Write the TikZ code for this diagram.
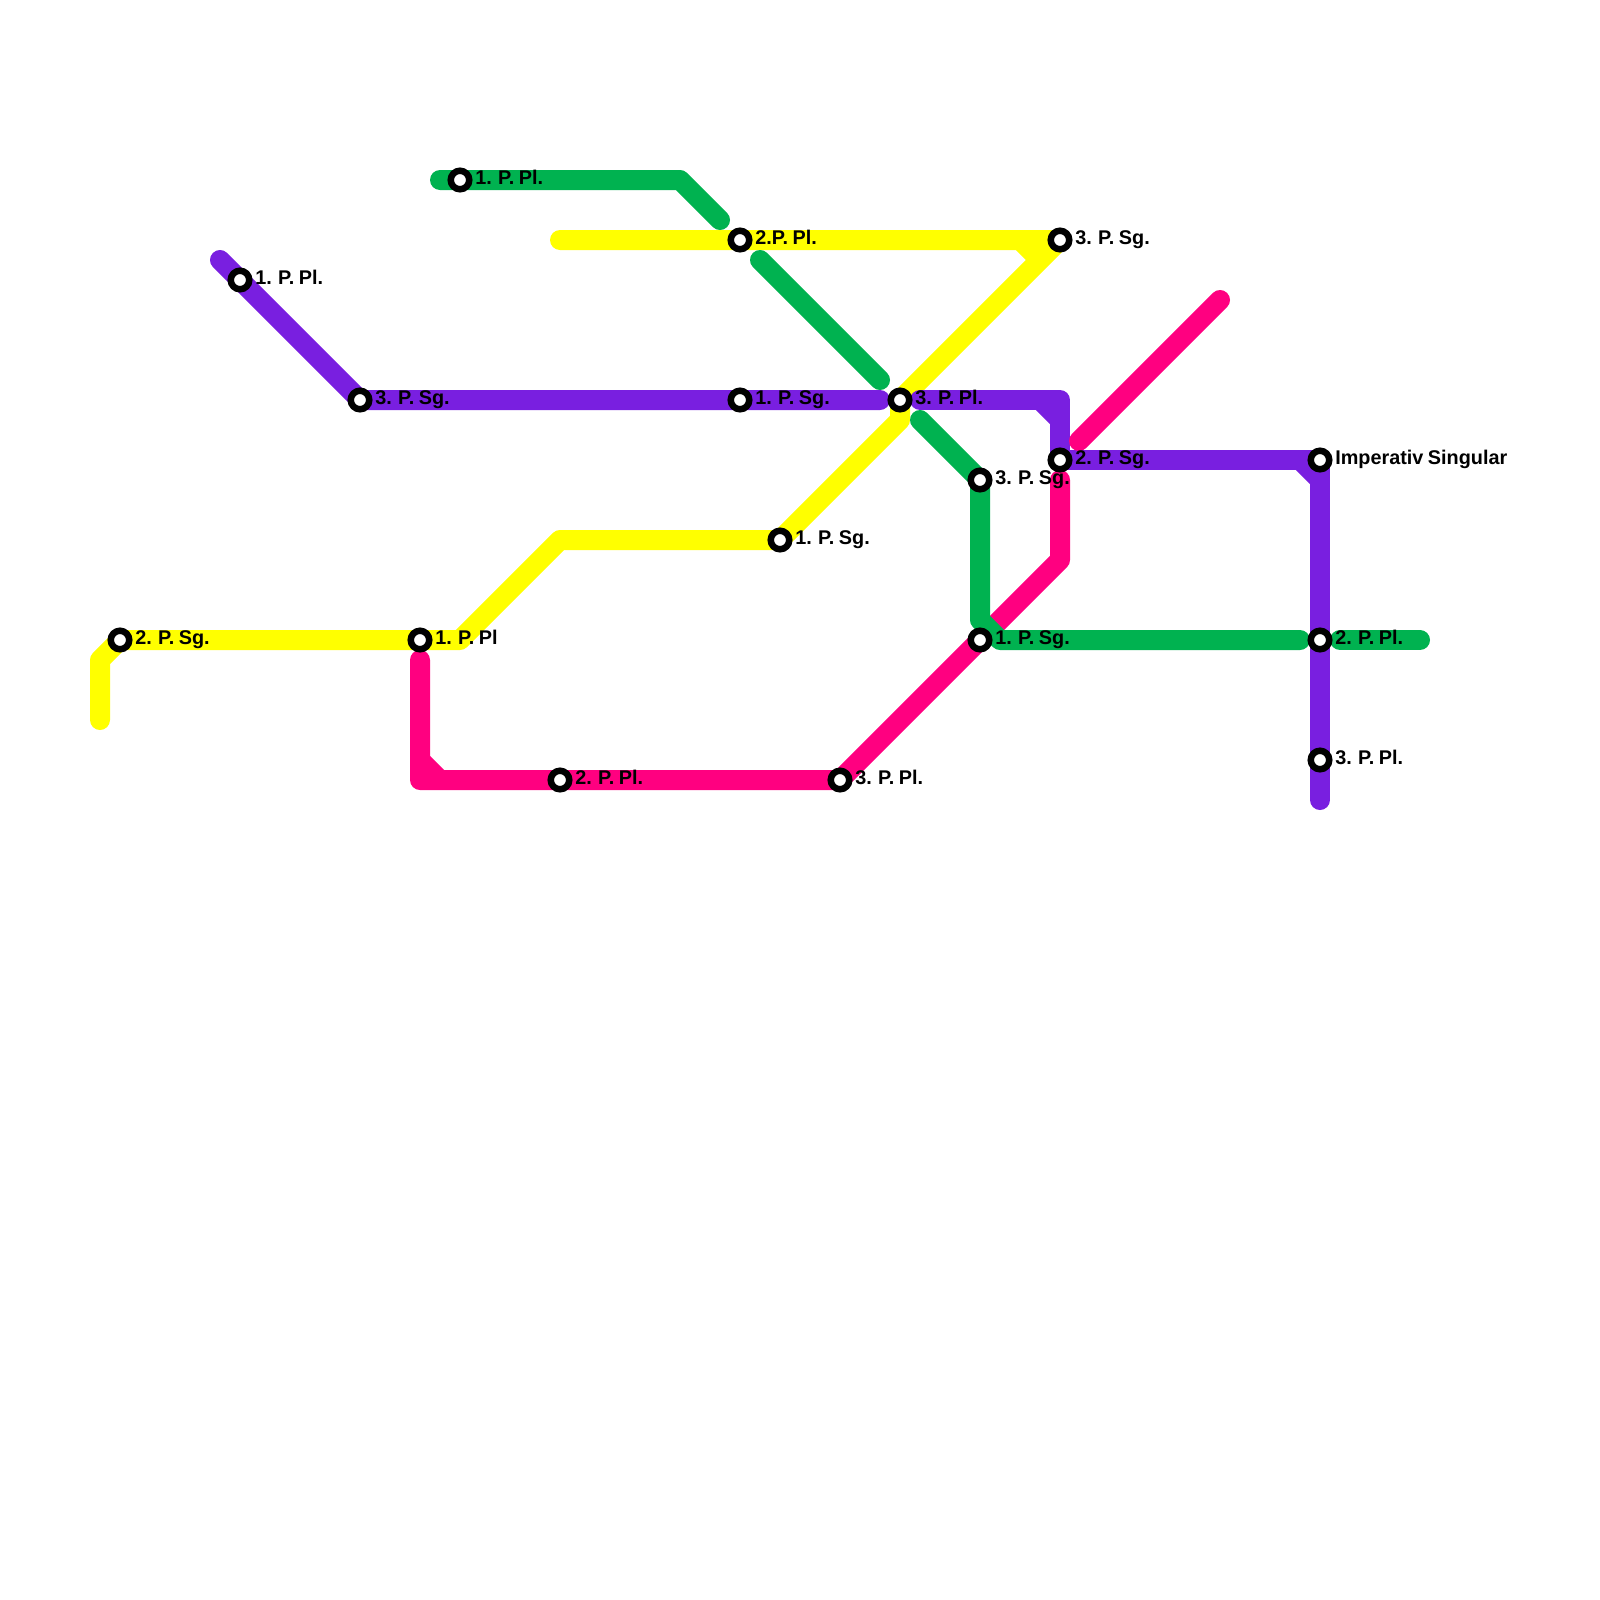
\documentclass[tikz,border=0pt]{standalone}
\usepackage{fontspec}
\setmainfont{Liberation Sans}[WordSpace=0.82]
\usepackage{tikz}
\usetikzlibrary{positioning, backgrounds}

\definecolor{lineyellow}{RGB}{255,255,0}
\definecolor{linegreen}{RGB}{0,178,80}
\definecolor{linepurple}{RGB}{121,31,224}
\definecolor{linepink}{RGB}{255,0,128}

\begin{document}
\begin{tikzpicture}[
        x=1cm, y=-1cm,
        node distance=0.135cm,
        stop/.style={circle, draw=black, fill=white, line width=0.325cm, minimum size=0.925cm, inner sep=0pt},
        tag/.style={inner sep=0pt, text height=0.46cm, text depth=0pt, font=\bfseries\fontsize{28.2}{28.2}\selectfont},
        route/.style={line width=1cm, line cap=round, line join=round},
        notch/.style={line width=1cm, line cap=butt}
    ]
        \useasboundingbox (0,0) rectangle (80,80);

        % Stations, yellow line
        \node[stop] (yTwoSg) at (6,32) {};
        \node[stop] (yOnePl) at (21,32) {};
        \node[stop] (yOneSg) at (39,27) {};
        \node[stop] (yThreePl) at (45,20) {};
        \node[stop] (yTwoPl) at (37,12) {};
        \node[stop] (yThreeSg) at (53,12) {};

        % Stations, purple line
        \node[stop] (pOnePl) at (12,14) {};
        \node[stop] (pThreeSg) at (18,20) {};
        \node[stop] (pOneSg) at (37,20) {};
        \node[stop] (pTwoSg) at (53,23) {};
        \node[stop] (pImp) at (66,23) {};
        \node[stop] (pTwoPl) at (66,32) {};
        \node[stop] (pThreePl) at (66,38) {};

        % Stations, pink line
        \node[stop] (rTwoPl) at (28,39) {};
        \node[stop] (rThreePl) at (42,39) {};

        % Stations, green line
        \node[stop] (gOnePl) at (23,9) {};
        \node[stop] (gThreeSg) at (49,24) {};
        \node[stop] (gOneSg) at (49,32) {};

        % Labels
        \node[tag, right=of yTwoSg] (tYTwoSg) {2. P. Sg.};
        \node[tag, right=of yOnePl] (tYOnePl) {1. P. Pl};
        \node[tag, right=of yOneSg] (tYOneSg) {1. P. Sg.};
        \node[tag, right=of yThreePl] (tYThreePl) {3. P. Pl.};
        \node[tag, right=of yTwoPl] (tYTwoPl) {2.P. Pl.};
        \node[tag, right=of yThreeSg] (tYThreeSg) {3. P. Sg.};
        \node[tag, right=of pOnePl] (tPOnePl) {1. P. Pl.};
        \node[tag, right=of pThreeSg] (tPThreeSg) {3. P. Sg.};
        \node[tag, right=of pOneSg] (tPOneSg) {1. P. Sg.};
        \node[tag, right=of pTwoSg] (tPTwoSg) {2. P. Sg.};
        \node[tag, right=of pImp] (tPImp) {Imperativ Singular};
        \node[tag, right=of pTwoPl] (tPTwoPl) {2. P. Pl.};
        \node[tag, right=of pThreePl] (tPThreePl) {3. P. Pl.};
        \node[tag, right=of rTwoPl] (tRTwoPl) {2. P. Pl.};
        \node[tag, right=of rThreePl] (tRThreePl) {3. P. Pl.};
        \node[tag, right=of gOnePl] (tGOnePl) {1. P. Pl.};
        \node[tag, right=of gThreeSg] (tGThreeSg) {3. P. Sg.};
        \node[tag, right=of gOneSg] (tGOneSg) {1. P. Sg.};

        % Free ends and bends
        \coordinate (yStart) at (28,12);
        \coordinate (yKinkA) at (45,21);
        \coordinate (yKinkB) at (28,27);
        \coordinate (yKinkC) at (23,32);
        \coordinate (yKinkD) at (5,33);
        \coordinate (yEnd) at (5,36);
        \coordinate (yNotchA) at (51,12);
        \coordinate (yNotchB) at (52,13);

        \coordinate (pStart) at (11,13);
        \coordinate (pStop) at (44,20);
        \coordinate (pResume) at (46,20);
        \coordinate (pKink) at (53,20);
        \coordinate (pEnd) at (66,40);
        \coordinate (pNotchA) at (52,20);
        \coordinate (pNotchB) at (53,21);
        \coordinate (pNotchC) at (65,23);
        \coordinate (pNotchD) at (66,24);

        \coordinate (rStart) at (21,33);
        \coordinate (rKinkA) at (21,39);
        \coordinate (rKinkB) at (53,28);
        \coordinate (rEnd) at (53,24);
        \coordinate (rNotchA) at (21,38);
        \coordinate (rNotchB) at (22,39);
        \coordinate (rBranchA) at (61,15);
        \coordinate (rBranchB) at (53.95,22.05);

        \coordinate (gStart) at (22,9);
        \coordinate (gKinkA) at (34,9);
        \coordinate (gEndA) at (36,11);
        \coordinate (gStartB) at (38,13);
        \coordinate (gEndB) at (44,19);
        \coordinate (gStartC) at (46,21);
        \coordinate (gKinkC) at (49,31);
        \coordinate (gKinkD) at (50,32);
        \coordinate (gEndC) at (65,32);
        \coordinate (gStartD) at (67,32);
        \coordinate (gEndD) at (71,32);

        % Lines
        \begin{scope}[on background layer]
            \draw[route, lineyellow] (yStart) -- (yThreeSg.center) -- (yThreePl.center) -- (yKinkA) -- (yOneSg.center) -- (yKinkB) -- (yKinkC) -- (yTwoSg.center) -- (yKinkD) -- (yEnd);
            \draw[notch, lineyellow] (yNotchA) -- (yNotchB);

            \draw[route, linepurple] (pStart) -- (pThreeSg.center) -- (pStop);
            \draw[route, linepurple] (pResume) -- (pKink) -- (pTwoSg.center) -- (pImp.center) -- (pEnd);
            \draw[notch, linepurple] (pNotchA) -- (pNotchB);
            \draw[notch, linepurple] (pNotchC) -- (pNotchD);

            \draw[route, linepink] (rStart) -- (rKinkA) -- (rThreePl.center) -- (rKinkB) -- (rEnd);
            \draw[notch, linepink] (rNotchA) -- (rNotchB);
            \draw[route, linepink] (rBranchA) -- (rBranchB);

            \draw[route, linegreen] (gStart) -- (gKinkA) -- (gEndA);
            \draw[route, linegreen] (gStartB) -- (gEndB);
            \draw[route, linegreen] (gStartC) -- (gThreeSg.center) -- (gKinkC) -- (gKinkD) -- (gEndC);
            \draw[route, linegreen] (gStartD) -- (gEndD);
        \end{scope}
\end{tikzpicture}
\end{document}
